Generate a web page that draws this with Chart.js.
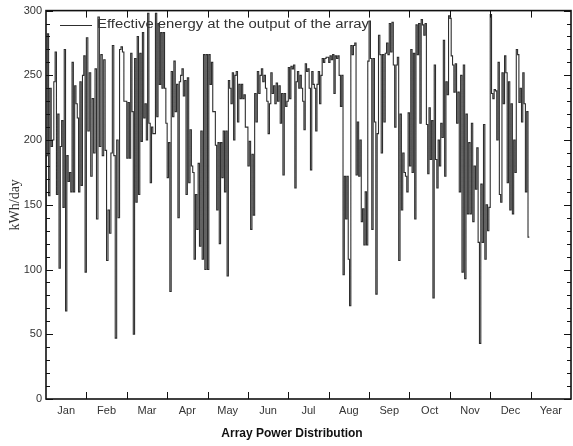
<!DOCTYPE html>
<html>
<head>
<meta charset="utf-8">
<script src="https://cdn.jsdelivr.net/npm/chart.js@4.4.1/dist/chart.umd.min.js"></script>
<style>
  html, body { margin: 0; padding: 0; background: #fff; }
  #wrap { width: 573px; height: 446px; position: relative; }
</style>
</head>
<body>
<div id="wrap"><canvas id="energyChart"></canvas></div>
<script>
// === daily effective energy at the array output (kWh/day), one array per month ===
const jan = [100, 188, 282, 157, 240, 195, 200, 245, 268, 158, 220, 101, 195, 215, 148, 270,
             68, 188, 168, 175, 160, 260, 160, 242, 228, 217, 160, 245, 165, 250, 265];
const feb = [98, 279, 207, 252, 172, 232, 190, 255, 139, 295, 195, 266, 188, 262, 192, 107,
             146, 128, 190, 273, 188, 47, 200, 140, 270, 272, 268, 230];
const mar = [230, 186, 229, 186, 267, 222, 50, 263, 152, 280, 158, 267, 199, 283, 217, 228,
             200, 298, 213, 167, 210, 205, 205, 298, 218, 290, 243, 283, 240, 283, 240];
const apr = [213, 171, 198, 83, 253, 218, 261, 222, 243, 140, 245, 250, 255, 234, 246, 158,
             248, 167, 208, 180, 175, 108, 158, 131, 182, 118, 207, 108, 266, 100];
const may = [266, 100, 266, 243, 260, 222, 222, 196, 146, 198, 120, 198, 171, 207, 160, 207,
             95, 246, 240, 228, 252, 200, 250, 253, 214, 243, 232, 243, 232, 235, 210];
const jun = [210, 180, 199, 131, 189, 142, 236, 214, 253, 236, 250, 255, 245, 250, 240, 230,
             205, 228, 252, 236, 242, 228, 244, 230, 242, 213, 236, 173, 236, 226];
const jul = [230, 256, 232, 257, 255, 258, 163, 245, 253, 240, 250, 240, 230, 208, 259, 253,
             255, 240, 177, 253, 243, 240, 207, 243, 253, 228, 250, 263, 260, 263, 264];
const aug = [264, 260, 265, 262, 266, 236, 265, 263, 265, 250, 226, 250, 96, 172, 139, 172,
             108, 72, 273, 266, 273, 275, 173, 214, 172, 200, 137, 147, 119, 160, 119];
const sep = [261, 292, 263, 131, 263, 214, 81, 205, 281, 266, 190, 266, 214, 267, 275, 266,
             290, 268, 291, 258, 210, 258, 264, 107, 220, 146, 190, 175, 172, 160];
const oct = [221, 180, 270, 175, 267, 139, 289, 266, 290, 213, 293, 289, 281, 290, 212, 174,
             225, 185, 215, 78, 258, 185, 163, 200, 180, 213, 202, 277, 172, 245, 235];
const nov = [296, 294, 265, 258, 237, 259, 213, 237, 160, 250, 98, 258, 93, 220, 143, 198,
             143, 213, 137, 180, 162, 194, 121, 43, 166, 121, 212, 108, 150, 130];
const dec = [148, 297, 236, 232, 239, 238, 200, 260, 158, 152, 252, 228, 265, 252, 167, 245,
             146, 228, 143, 200, 175, 270, 266, 229, 240, 214, 252, 228, 160, 222, 125];

const monthLabels = ['Jan', 'Feb', 'Mar', 'Apr', 'May', 'Jun', 'Jul', 'Aug', 'Sep', 'Oct', 'Nov', 'Dec', 'Year'];
const yTicks = [0, 50, 100, 150, 200, 250, 300];
const seriesLabel = 'Effective energy at the output of the array';

// month index on the x axis, each day spread evenly inside its month
const months = [jan, feb, mar, apr, may, jun, jul, aug, sep, oct, nov, dec];
const points = [];
months.forEach((days, m) => {
    days.forEach((v, d) => points.push({ x: m + d / days.length, y: v }));
});

const lineColor = '#2e2e2e';
const textColor = '#333';

// frame, inward ticks, legend and axis titles
const decorPlugin = {
    id: 'decor',
    afterDraw(chart) {
        const ctx = chart.ctx;
        const a = chart.chartArea;
        const xs = chart.scales.x;
        const ys = chart.scales.y;
        ctx.save();

        ctx.strokeStyle = '#111';
        ctx.lineWidth = 1;
        // y ticks, major every 50, minor every 10
        for (let v = 0; v <= 300; v += 10) {
            const y = Math.round(ys.getPixelForValue(v)) + 0.5;
            const len = v % 50 === 0 ? 7 : 4;
            ctx.beginPath();
            ctx.moveTo(a.left, y); ctx.lineTo(a.left + len, y);
            ctx.moveTo(a.right, y); ctx.lineTo(a.right - len, y);
            ctx.stroke();
        }
        // month boundaries on bottom and top
        for (let m = 1; m <= 12; m++) {
            const x = Math.round(xs.getPixelForValue(m)) + 0.5;
            ctx.beginPath();
            ctx.moveTo(x, a.bottom); ctx.lineTo(x, a.bottom - 7);
            ctx.moveTo(x, a.top); ctx.lineTo(x, a.top + 7);
            ctx.stroke();
        }
        ctx.lineWidth = 1.6;
        ctx.strokeRect(a.left, a.top, a.right - a.left, a.bottom - a.top);

        // legend (text stretched to the width it has in the source)
        ctx.strokeStyle = lineColor;
        ctx.lineWidth = 1;
        ctx.beginPath();
        ctx.moveTo(60, 25.5); ctx.lineTo(92, 25.5);
        ctx.stroke();
        ctx.fillStyle = textColor;
        ctx.font = '12px "Liberation Sans", Arial, sans-serif';
        ctx.textBaseline = 'middle';
        ctx.textAlign = 'left';
        const w = ctx.measureText(seriesLabel).width;
        ctx.save();
        ctx.translate(97, 25);
        ctx.scale(272 / w, 1);
        ctx.fillText(seriesLabel, 0, 0);
        ctx.restore();

        // axis titles
        ctx.font = 'bold 12px "Liberation Sans", Arial, sans-serif';
        ctx.textAlign = 'center';
        ctx.fillStyle = '#111';
        ctx.fillText('Array Power Distribution', 292, 434);

        ctx.translate(15, (a.top + a.bottom) / 2);
        ctx.rotate(-Math.PI / 2);
        ctx.font = '14px "Liberation Serif", "Times New Roman", serif';
        ctx.fillStyle = textColor;
        ctx.fillText('kWh/day', 0, 0);
        ctx.restore();
    }
};

window.onload = () => {
    const ctx = document.getElementById('energyChart').getContext('2d');
    new Chart(ctx, {
        type: 'line',
        data: {
            datasets: [{
                label: seriesLabel,
                data: points,
                borderColor: lineColor,
                borderWidth: 1.1,
                pointRadius: 0,
                stepped: 'after',
                fill: false,
                tension: 0
            }]
        },
        options: {
            responsive: true,
            maintainAspectRatio: false,
            animation: false,
            devicePixelRatio: 1,
            layout: { padding: { left: 0, right: 2, top: 5, bottom: 0 } },
            plugins: {
                legend: { display: false },
                tooltip: { enabled: false }
            },
            scales: {
                x: {
                    type: 'linear',
                    min: 0,
                    max: 13,
                    afterBuildTicks: s => { s.ticks = monthLabels.map((_, i) => ({ value: i + 0.5 })); },
                    afterFit: s => { s.height = 47; },
                    grid: { display: false, drawTicks: false },
                    border: { display: false },
                    ticks: {
                        autoSkip: false,
                        maxRotation: 0,
                        padding: 5,
                        color: textColor,
                        font: { family: '"Liberation Sans", Arial, sans-serif', size: 11 },
                        callback: v => monthLabels[Math.floor(v)]
                    }
                },
                y: {
                    min: 0,
                    max: 300,
                    afterBuildTicks: s => { s.ticks = yTicks.map(v => ({ value: v })); },
                    afterFit: s => { s.width = 46; },
                    grid: { display: false, drawTicks: false },
                    border: { display: false },
                    ticks: {
                        padding: 4,
                        color: textColor,
                        font: { family: '"Liberation Sans", Arial, sans-serif', size: 11 }
                    }
                }
            }
        },
        plugins: [decorPlugin]
    });
};
</script>
</body>
</html>
